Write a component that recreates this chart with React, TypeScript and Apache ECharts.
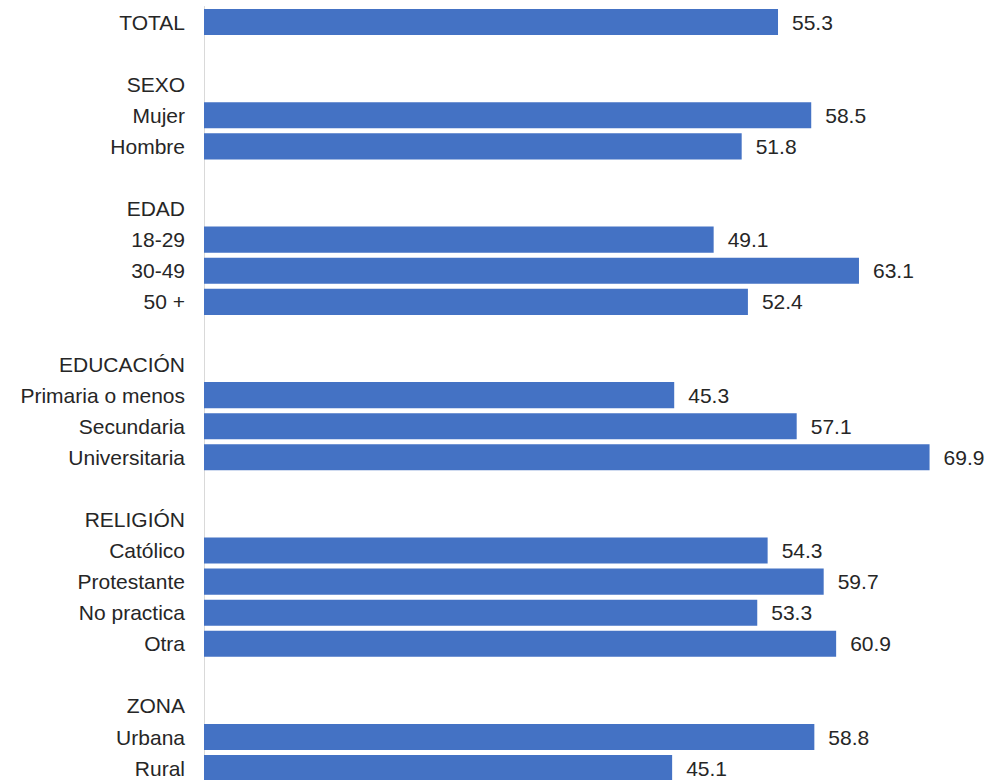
import React, { useEffect, useRef } from "react";
import * as echarts from "echarts";

const categories: string[] = [
  "TOTAL", "", "SEXO", "Mujer", "Hombre", "", "EDAD", "18-29", "30-49", "50 +", "",
  "EDUCACIÓN", "Primaria o menos", "Secundaria", "Universitaria", "",
  "RELIGIÓN", "Católico", "Protestante", "No practica", "Otra", "",
  "ZONA", "Urbana", "Rural",
];

const values: (number | null)[] = [
  55.3, null, null, 58.5, 51.8, null, null, 49.1, 63.1, 52.4, null,
  null, 45.3, 57.1, 69.9, null,
  null, 54.3, 59.7, 53.3, 60.9, null,
  null, 58.8, 45.1,
];

export default function App() {
  const ref = useRef<HTMLDivElement>(null);
  useEffect(() => {
    if (!ref.current) return;
    const chart = echarts.init(ref.current, undefined, { renderer: "svg" });
    chart.setOption({
      animation: false,
      backgroundColor: "#ffffff",
      textStyle: { fontFamily: "Liberation Sans, Arial, sans-serif" },
      grid: { left: 204, width: 778.5, top: 6.5, height: 777.2, containLabel: false },
      xAxis: {
        type: "value",
        min: 0,
        max: 75,
        show: false,
        splitLine: { show: false },
      },
      yAxis: {
        type: "category",
        inverse: true,
        data: categories,
        axisLine: { show: true, lineStyle: { color: "#d9d9d9", width: 1 } },
        axisTick: { show: false },
        axisLabel: {
          color: "#262626",
          fontSize: 21,
          margin: 19,
          fontFamily: "Liberation Sans, Arial, sans-serif",
        },
      },
      series: [
        {
          type: "bar",
          data: values,
          barCategoryGap: "16%",
          itemStyle: { color: "#4472C4" },
          label: {
            show: true,
            position: "right",
            distance: 14,
            color: "#262626",
            fontSize: 21,
            fontFamily: "Liberation Sans, Arial, sans-serif",
            formatter: (p: any) => (p.value == null ? "" : Number(p.value).toFixed(1)),
          },
        },
      ],
    });
    return () => chart.dispose();
  }, []);
  return (
    <div
      ref={ref}
      style={{ position: "fixed", left: 0, top: 0, width: 989, height: 790, background: "#fff" }}
    />
  );
}
